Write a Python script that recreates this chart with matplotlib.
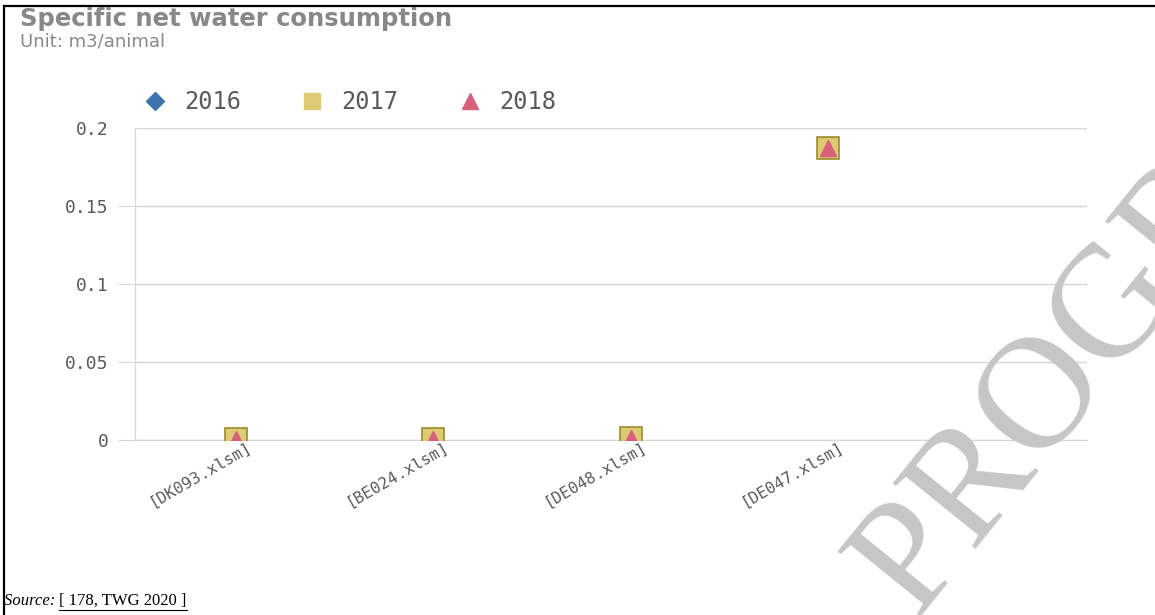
import matplotlib.pyplot as plt
import matplotlib.transforms as mtransforms
from matplotlib.lines import Line2D

# data
sites = ["[DK093.xlsm]", "[BE024.xlsm]", "[DE048.xlsm]", "[DE047.xlsm]"]
val_2016 = [0.0005, 0.0005, 0.001, 0.187]
val_2017 = [0.0005, 0.0005, 0.001, 0.187]
val_2018 = [0.0005, 0.0005, 0.001, 0.187]
yticks = [0, 0.05, 0.1, 0.15, 0.2]
ytick_labels = ["0", "0.05", "0.1", "0.15", "0.2"]

blue = "#3d74ad"
yellow = "#dccb72"
yellow_edge = "#9c8a2e"
pink = "#d8607a"
grey_txt = "#5a5a5a"
grid_c = "#d6d6d6"

W, H = 1155, 615
fig = plt.figure(figsize=(W / 100, H / 100), dpi=100)

ax = fig.add_axes([135 / W, 1 - 440 / H, (1087 - 135) / W, (440 - 128) / H])
x = list(range(len(sites)))
ax.plot(x, val_2016, ls="none", marker="D", ms=9, color=blue, zorder=3)
ax.plot(x, val_2017, ls="none", marker="s", ms=16, mfc=yellow, mec=yellow_edge, mew=1.2, zorder=4)
ax.plot(x, val_2018, ls="none", marker="^", ms=12, color=pink, zorder=5)

ax.set_ylim(0, 0.2)
ax.set_xlim(-0.51, 4.31)
ax.set_yticks(yticks)
ax.set_yticklabels(ytick_labels, family="DejaVu Sans Mono", fontsize=13, color=grey_txt)
ax.tick_params(axis="y", length=12, color=grid_c, pad=7)
ax.yaxis.get_major_ticks()[-1].tick1line.set_visible(False)
ax.set_xticks(x)
ax.set_xticklabels(sites, family="DejaVu Sans Mono", fontsize=11.5, color=grey_txt,
                   rotation=30, ha="right", va="center", rotation_mode="anchor")
ax.tick_params(axis="x", length=0, pad=4)
shift = mtransforms.ScaledTranslation(14 / 100, 0, fig.dpi_scale_trans)
for lbl in ax.get_xticklabels():
    lbl.set_transform(lbl.get_transform() + shift)
ax.grid(axis="y", color=grid_c, lw=1)
ax.set_axisbelow(True)
for s in ["right", "top"]:
    ax.spines[s].set_visible(False)
ax.spines["left"].set_color(grid_c)
ax.spines["bottom"].set_color(grid_c)

# legend
handles = [
    Line2D([], [], ls="none", marker="D", ms=9, color=blue),
    Line2D([], [], ls="none", marker="s", ms=12, color=yellow),
    Line2D([], [], ls="none", marker="^", ms=11, color=pink),
]
leg = fig.legend(handles, ["2016", "2017", "2018"], ncol=3, frameon=False,
                 loc="center left", bbox_to_anchor=(143 / W, 1 - 102 / H),
                 prop={"family": "DejaVu Sans Mono", "size": 17},
                 handlelength=1.0, handletextpad=0.75, columnspacing=2.5,
                 borderpad=0, borderaxespad=0)
for t in leg.get_texts():
    t.set_color(grey_txt)

fig.text(20 / W, 1 - 26 / H, "Specific net water consumption", fontsize=17.5,
         fontweight="bold", color="#888888", va="baseline", ha="left")
fig.text(20 / W, 1 - 47 / H, "Unit: m3/animal", fontsize=13, color="#888888",
         va="baseline", ha="left")

# source line
src1 = fig.text(4 / W, 1 - 601 / H, "Source: ", family="Liberation Serif", style="italic",
                fontsize=12, va="center", ha="left")
fig.canvas.draw()
bb = src1.get_window_extent()
src2 = fig.text(bb.x1 / W, 1 - 601 / H, "[ 178, TWG 2020 ]", family="Liberation Serif",
                fontsize=12, va="center", ha="left")
fig.canvas.draw()
bb2 = src2.get_window_extent()
fig.add_artist(Line2D([bb.x1 / W, bb2.x1 / W], [1 - 610 / H, 1 - 610 / H], color="black", lw=0.8))

# watermark
fig.text(915 / W, 1 - 618 / H, "PROGRESS", family="Liberation Serif", fontsize=115,
         color="#c6c6c6", rotation=51, rotation_mode="anchor", ha="left", va="baseline",
         zorder=10)

# page border
fig.add_artist(Line2D([4 / W, 4 / W], [0, 1 - 6 / H], color="black", lw=1.6))
fig.add_artist(Line2D([4 / W, 1], [1 - 6 / H, 1 - 6 / H], color="black", lw=1.6))

fig.savefig("out.png", dpi=100)
